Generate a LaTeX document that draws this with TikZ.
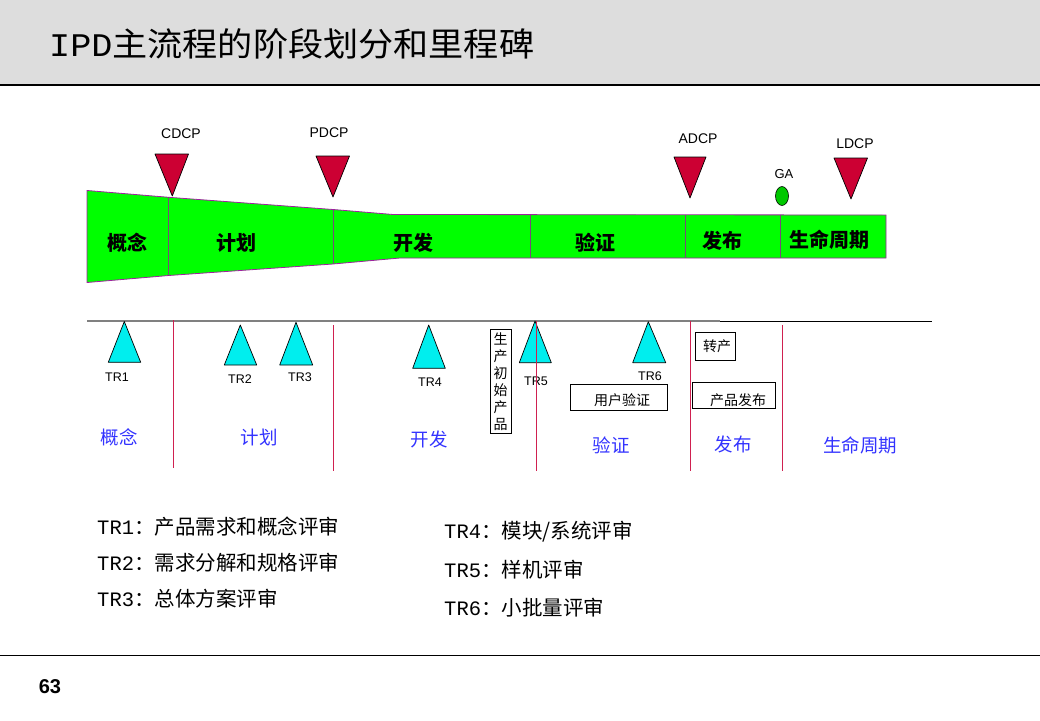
\documentclass[tikz,border=0pt]{standalone}
\usepackage{fontspec}
\setmainfont{Liberation Sans}
\newfontfamily\cjk{Noto Sans CJK SC}
\newfontfamily\mono{Liberation Mono}
\definecolor{headgray}{HTML}{DDDDDD}
\definecolor{bandgreen}{HTML}{00FF00}
\definecolor{purp}{HTML}{A020A0}
\definecolor{divc}{HTML}{7A4A7A}
\definecolor{tri}{HTML}{CC0033}
\definecolor{cyantri}{HTML}{00EEEE}
\definecolor{blueT}{HTML}{3333FF}
\definecolor{redL}{HTML}{D02050}
\definecolor{gaGreen}{HTML}{00C800}
\begin{document}
\begin{tikzpicture}[x=1pt,y=-1pt,
  redtri/.style={fill=tri,draw=black,line width=0.7pt,line join=round},
  cyan/.style={fill=cyantri,draw=black,line width=0.7pt,line join=round},
  dcp/.style={font=\fontsize{14}{14}\selectfont,inner sep=0pt},
  trl/.style={font=\fontsize{12.5}{12.5}\selectfont,inner sep=0pt},
  bandtxt/.style={font=\cjk\bfseries\fontsize{20}{20}\selectfont,inner sep=0pt},
  bluetxt/.style={text=blueT,font=\cjk\fontsize{18.5}{18.5}\selectfont,inner sep=0pt},
  redline/.style={draw=redL,line width=0.9pt},
  divider/.style={draw=divc,line width=0.8pt},
  boxtxt/.style={font=\cjk\fontsize{14}{14}\selectfont,inner sep=0pt},
  frame/.style={draw=black,line width=0.8pt,fill=white},
  desc/.style={anchor=west,font=\cjk\fontsize{20.5}{20.5}\selectfont,inner sep=0pt}
]
\useasboundingbox (0,0) rectangle (1040,720);
\fill[white] (0,0) rectangle (1040,720);
% header
\fill[headgray] (0,0) rectangle (1040,85);
\draw[line width=1.2pt] (0,85) -- (1040,85);
\node[anchor=west,inner sep=0pt,font=\cjk\fontsize{33}{33}\selectfont] (title) at (49,44)
  {\scalebox{1.065}[1]{{\mono IPD}主流程的阶段划分和里程碑}};
% footer
\draw[line width=1pt] (0,655) -- (1040,655);
\node[inner sep=0pt,font=\bfseries\fontsize{20}{20}\selectfont] (pg) at (50,687) {63};

% green band
\filldraw[fill=bandgreen,draw=purp,line width=0.8pt]
  (87,190.5) -- (168.7,197.3) -- (333,209.5) -- (393,214.5) -- (886,215)
  -- (886,258) -- (400,258) -- (333,264) -- (168.7,275.5) -- (87,282.5) -- cycle;
\draw[divider] (168.7,197.3) -- (168.7,275.5);
\draw[divider] (333,209.5) -- (333,264);
\draw[divider] (530,215) -- (530,258);
\draw[divider] (685,215) -- (685,258);
\draw[divider] (780,215) -- (780,258);
\node[bandtxt] (b1) at (127,243) {概念};
\node[bandtxt] (b2) at (236,243) {计划};
\node[bandtxt] (b3) at (413,243) {开发};
\node[bandtxt] (b4) at (595,243) {验证};
\node[bandtxt] (b5) at (722,241) {发布};
\node[bandtxt] (b6) at (829,240) {生命周期};

% decision checkpoints
\draw[redtri] (155,154) -- (188.5,154) -- (172.3,196) -- cycle;
\node[dcp] (cdcp) at (181,134) {CDCP};
\draw[redtri] (316,156) -- (349.5,156) -- (333,197) -- cycle;
\node[dcp] (pdcp) at (329,133) {PDCP};
\draw[redtri] (674,157) -- (706,157) -- (690,198) -- cycle;
\node[dcp] (adcp) at (698,139) {ADCP};
\draw[redtri] (834,158) -- (867.5,158) -- (851,199) -- cycle;
\node[dcp] (ldcp) at (855,144) {LDCP};
\filldraw[fill=gaGreen,draw=black,line width=0.6pt] (782,196) ellipse [x radius=6.5,y radius=9.5];
\node[dcp,font=\fontsize{13}{13}\selectfont] (ga) at (784,174) {GA};

% lower timeline
\draw[black,line width=1pt] (510,321) -- (932,321);
\draw[gray,line width=1.2pt] (87,321) -- (720,321);

% technical reviews
\draw[cyan] (124.3,321.5) -- (140.7,362.3) -- (108.3,362.3) -- cycle;
\node[trl] (tr1) at (117,377) {TR1};
\draw[cyan] (240.3,325) -- (256.7,365) -- (224.3,365) -- cycle;
\node[trl] (tr2) at (240,379) {TR2};
\draw[cyan] (296,322.3) -- (312.7,365) -- (279.7,365) -- cycle;
\node[trl] (tr3) at (300,377) {TR3};
\draw[cyan] (428.7,325) -- (445.3,368.3) -- (412.7,368.3) -- cycle;
\node[trl] (tr4) at (430,382) {TR4};
\draw[cyan] (535,321) -- (551.3,362.7) -- (519.3,362.7) -- cycle;
\node[trl] (tr5) at (536,381) {TR5};
\draw[cyan] (648.3,321.7) -- (665.7,362.7) -- (632.7,362.7) -- cycle;
\node[trl] (tr6) at (650,376) {TR6};

% phase separators
\draw[redline] (173,320) -- (173,468);
\draw[redline] (333,325) -- (333,471);
\draw[redline] (536,321) -- (536,471);
\draw[redline] (690,321) -- (690,471);
\draw[redline] (782,325) -- (782,471);

% boxes
\draw[frame] (490.3,329) rectangle (511,433.3);
\node[boxtxt] (v1) at (500.7,339) {生};
\node[boxtxt] (v2) at (500.7,356) {产};
\node[boxtxt] (v3) at (500.7,373) {初};
\node[boxtxt] (v4) at (500.7,390) {始};
\node[boxtxt] (v5) at (500.7,407) {产};
\node[boxtxt] (v6) at (500.7,424.5) {品};
\draw[frame] (570.7,384.3) rectangle (667.3,410);
\node[boxtxt] (yh) at (622,400) {用户验证};
\draw[frame] (695.3,332.3) rectangle (735.7,360.7);
\node[boxtxt] (zc) at (717,346) {转产};
\draw[frame] (692.3,382.7) rectangle (775.3,408.7);
\node[boxtxt] (cp) at (738,400) {产品发布};

% blue phase labels
\node[bluetxt] (p1) at (119,437) {概念};
\node[bluetxt] (p2) at (259,437) {计划};
\node[bluetxt] (p3) at (429,439) {开发};
\node[bluetxt] (p4) at (611,445) {验证};
\node[bluetxt] (p5) at (733,444) {发布};
\node[bluetxt] (p6) at (860,445) {生命周期};

% descriptions
\node[desc] (d1) at (97,527) {{\mono TR1}：产品需求和概念评审};
\node[desc] (d2) at (97,563) {{\mono TR2}：需求分解和规格评审};
\node[desc] (d3) at (97,599) {{\mono TR3}：总体方案评审};
\node[desc] (d4) at (444,532) {{\mono TR4}：模块/系统评审};
\node[desc] (d5) at (444,570) {{\mono TR5}：样机评审};
\node[desc] (d6) at (444,608) {{\mono TR6}：小批量评审};
\end{tikzpicture}
\end{document}
